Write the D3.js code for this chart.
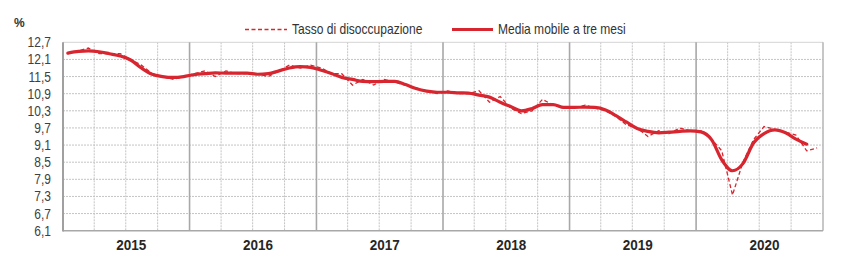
<!DOCTYPE html>
<html>
<head>
<meta charset="utf-8">
<script src="https://cdn.jsdelivr.net/npm/d3@7"></script>
<style>
  body { margin: 0; background: #fff; }
  svg { display: block; }
</style>
</head>
<body>
<svg id="chart" width="850" height="277"></svg>
<script>
// --- data (monthly, Jan 2015 - Dec 2020) ---
const years = [2015, 2016, 2017, 2018, 2019, 2020];
const yTicks = [6.1, 6.7, 7.3, 7.9, 8.5, 9.1, 9.7, 10.3, 10.9, 11.5, 12.1, 12.7];

// Tasso di disoccupazione (%)
const rate = [
  12.3, 12.4, 12.5, 12.3, 12.3, 12.3, 12.1, 11.9, 11.6, 11.5, 11.4, 11.5,
  11.6, 11.7, 11.5, 11.7, 11.6, 11.6, 11.6, 11.5, 11.7, 11.9, 11.8, 11.9,
  11.8, 11.6, 11.6, 11.2, 11.4, 11.2, 11.4, 11.3, 11.2, 11.1, 11.0, 10.9,
  11.0, 10.9, 10.9, 11.0, 10.6, 10.8, 10.4, 10.2, 10.3, 10.7, 10.5, 10.4,
  10.4, 10.5, 10.4, 10.3, 10.1, 9.8, 9.7, 9.4, 9.6, 9.5, 9.7, 9.6,
  9.6, 9.3, 8.9, 7.35, 8.5, 9.3, 9.75, 9.65, 9.55, 9.45, 8.9, 9.0
];

// Media mobile a tre mesi (centred, last value Nov 2020)
const movingAvg = [
  12.32, 12.38, 12.4, 12.37, 12.3, 12.22, 12.08, 11.8, 11.58, 11.5, 11.47, 11.5,
  11.57, 11.6, 11.63, 11.62, 11.62, 11.62, 11.58, 11.6, 11.7, 11.8, 11.85, 11.82,
  11.72, 11.6, 11.47, 11.4, 11.33, 11.32, 11.33, 11.33, 11.22, 11.08, 10.99, 10.95,
  10.95, 10.93, 10.92, 10.85, 10.78, 10.6, 10.45, 10.3, 10.38, 10.52, 10.52, 10.42,
  10.42, 10.43, 10.42, 10.33, 10.13, 9.9, 9.68, 9.58, 9.53, 9.55, 9.58, 9.6,
  9.56, 9.28, 8.58, 8.2, 8.45, 9.18, 9.5, 9.63, 9.53, 9.31, 9.13
];

const RED = "#d7262f";
const FONT = "'Liberation Sans', Arial, sans-serif";
const NARROW = 0.86; // squeeze to mimic a narrow face

const svg = d3.select("#chart");
const plot = { left: 63, right: 823, top: 42.3, bottom: 230.7 };

const monthDate = i => new Date(years[0], i, 15);

const x = d3.scaleTime()
  .domain([new Date(years[0], 0, 1), new Date(years[years.length - 1] + 1, 0, 1)])
  .range([plot.left, plot.right]);

const y = d3.scaleLinear()
  .domain([yTicks[0], yTicks[yTicks.length - 1]])
  .range([plot.bottom, plot.top]);

const it = d3.formatLocale({ decimal: ",", thousands: ".", grouping: [3], currency: ["", "€"] });
const fmt = it.format(".1f");

// text placed with a horizontal squeeze
function narrowText(sel, tx, ty, sx) {
  return sel.attr("transform", (d, i) => `translate(${tx(d, i)},${ty(d, i)}) scale(${sx},1)`);
}

// horizontal grid
svg.append("g")
  .selectAll("line")
  .data(yTicks.slice(1, -1))
  .join("line")
  .attr("x1", plot.left).attr("x2", plot.right)
  .attr("y1", d => y(d)).attr("y2", d => y(d))
  .attr("stroke", "#c4c4c4")
  .attr("stroke-width", 1)
  .attr("stroke-dasharray", "2,1");

// quarter lines (dotted) and year lines (solid)
const quarters = d3.timeMonth.every(3).range(x.domain()[0], x.domain()[1])
  .filter(d => d.getMonth() !== 0);
svg.append("g")
  .selectAll("line")
  .data(quarters)
  .join("line")
  .attr("x1", d => x(d)).attr("x2", d => x(d))
  .attr("y1", plot.top).attr("y2", plot.bottom)
  .attr("stroke", "#c4c4c4")
  .attr("stroke-width", 1)
  .attr("stroke-dasharray", "2,1");

// frame
svg.append("line")
  .attr("x1", plot.left).attr("x2", plot.right)
  .attr("y1", plot.top).attr("y2", plot.top)
  .attr("stroke", "#d4d4d4").attr("stroke-width", 1);
svg.append("line")
  .attr("x1", plot.right).attr("x2", plot.right)
  .attr("y1", plot.top).attr("y2", plot.bottom)
  .attr("stroke", "#b4b4b4").attr("stroke-width", 1.5);

svg.append("g")
  .selectAll("line")
  .data(years.slice(1).map(yr => new Date(yr, 0, 1)))
  .join("line")
  .attr("x1", d => x(d)).attr("x2", d => x(d))
  .attr("y1", plot.top).attr("y2", plot.bottom)
  .attr("stroke", "#a8a8a8")
  .attr("stroke-width", 1.6);

svg.append("line")
  .attr("x1", plot.left).attr("x2", plot.right)
  .attr("y1", plot.bottom).attr("y2", plot.bottom)
  .attr("stroke", "#a8a8a8").attr("stroke-width", 1.6);
svg.append("line")
  .attr("x1", plot.left).attr("x2", plot.left)
  .attr("y1", plot.top).attr("y2", plot.bottom + 0.8)
  .attr("stroke", "#a0a0a0").attr("stroke-width", 2);

// y labels
svg.append("g")
  .selectAll("text")
  .data(yTicks)
  .join("text")
  .call(narrowText, () => 51, d => y(d), NARROW)
  .attr("dy", "0.36em")
  .attr("text-anchor", "end")
  .attr("font-family", FONT)
  .attr("font-size", 14)
  .attr("fill", "#404040")
  .text(d => fmt(d));

svg.append("text")
  .attr("x", 14).attr("y", 27.3)
  .attr("font-family", FONT)
  .attr("font-weight", "bold")
  .attr("font-size", 12)
  .attr("fill", "#333")
  .text("%");

// year labels
svg.append("g")
  .selectAll("text")
  .data(years)
  .join("text")
  .call(narrowText,
    yr => (x(new Date(yr, 0, 1)) + x(new Date(yr + 1, 0, 1))) / 2 + 5,
    () => 250, 0.9)
  .attr("text-anchor", "middle")
  .attr("font-family", FONT)
  .attr("font-weight", "bold")
  .attr("font-size", 15)
  .attr("fill", "#262626")
  .text(d => d);

// lines
const rateLine = d3.line()
  .x((d, i) => x(monthDate(i)))
  .y(d => y(d));

const avgLine = d3.line()
  .x((d, i) => x(monthDate(i)))
  .y(d => y(d))
  .curve(d3.curveMonotoneX);

svg.append("path")
  .datum(rate)
  .attr("d", rateLine)
  .attr("fill", "none")
  .attr("stroke", RED)
  .attr("stroke-width", 1.3)
  .attr("stroke-dasharray", "4,2.5");

svg.append("path")
  .datum(movingAvg)
  .attr("d", avgLine)
  .attr("fill", "none")
  .attr("stroke", RED)
  .attr("stroke-width", 3.2)
  .attr("stroke-linejoin", "round")
  .attr("stroke-linecap", "round");

// legend
const legendItems = [
  { label: "Tasso di disoccupazione", x0: 245, x1: 287, dash: "4,2.5", width: 1.3 },
  { label: "Media mobile a tre mesi", x0: 452, x1: 493, dash: null, width: 3.2 }
];
const legend = svg.append("g")
  .selectAll("g")
  .data(legendItems)
  .join("g");
legend.append("line")
  .attr("x1", d => d.x0).attr("x2", d => d.x1)
  .attr("y1", 29.5).attr("y2", 29.5)
  .attr("stroke", RED)
  .attr("stroke-width", d => d.width)
  .attr("stroke-dasharray", d => d.dash);
legend.append("text")
  .call(narrowText, d => d.x1 + 5, () => 33.5, NARROW)
  .attr("font-family", FONT).attr("font-size", 14).attr("fill", "#333")
  .text(d => d.label);
</script>
</body>
</html>
